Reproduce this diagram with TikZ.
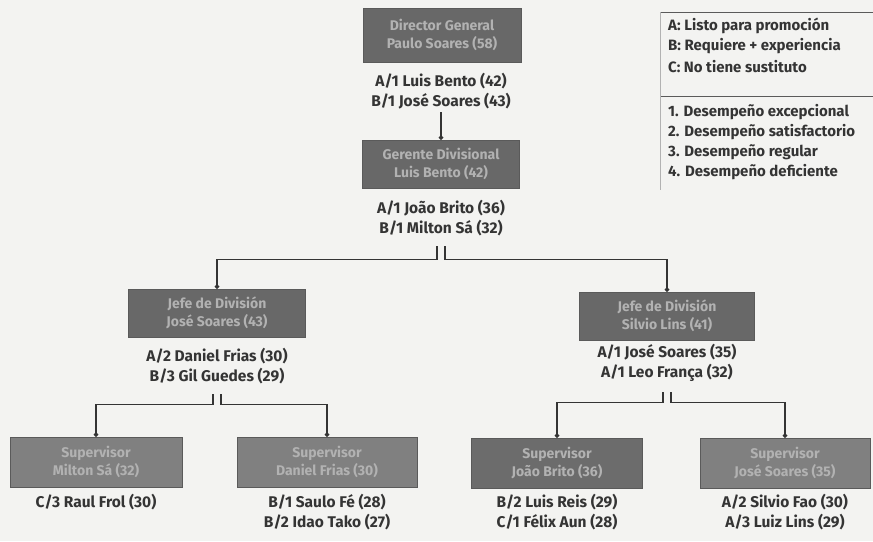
\documentclass[tikz,border=0pt]{standalone}
\usepackage{fontspec}
\setmainfont{Fira Sans}
\usetikzlibrary{arrows.meta,positioning}
\definecolor{ocPaper}{RGB}{243,243,241}
\definecolor{ocInk}{RGB}{52,52,52}
\definecolor{ocDark}{RGB}{104,104,104}
\definecolor{ocMid}{RGB}{128,128,128}
\definecolor{ocPale}{RGB}{178,178,178}
\definecolor{ocRule}{RGB}{90,90,90}
\tikzset{
  ocBox/.style={draw=ocRule, fill=#1, text=ocPale, align=center,
                minimum height=50pt, inner sep=2pt,
                font=\bfseries\fontsize{14}{18}\selectfont},
  ocName/.style={text=ocInk, align=center, inner sep=0pt,
                 font=\bfseries\fontsize{15.5}{20.5}\selectfont},
  ocKey/.style={text=ocInk, anchor=west, inner sep=0pt,
                font=\bfseries\fontsize{15}{15}\selectfont},
  ocLink/.style={draw=ocInk, line width=1.2pt},
  ocArrow/.style={ocLink, -{Circle[length=4.5pt]}},
  ocFrame/.style={draw=ocRule, line width=0.9pt}
}
\begin{document}
\begin{tikzpicture}[x=1pt,y=-1pt]
  \useasboundingbox[fill=ocPaper] (0,0) rectangle (873,541);

  % top levels
  \node[ocBox=ocDark, minimum width=158pt, minimum height=54pt] (dirBox) at (442,35) {Director General\\Paulo Soares (58)};
  \node[ocName] (dirSucc) at (441,91) {A/1 Luis Bento (42)\\B/1 José Soares (43)};
  \node[ocBox=ocDark, minimum width=157pt, minimum height=48pt] (gerBox) at (441,164) {Gerente Divisional\\Luis Bento (42)};
  \node[ocName] (gerSucc) at (441,218) {A/1 João Brito (36)\\B/1 Milton Sá (32)};

  % division heads
  \node[ocBox=ocDark, minimum width=177pt, minimum height=48pt] (jefeL) at (217,313) {Jefe de División\\José Soares (43)};
  \node[ocName] (jefeLSucc) at (217,366) {A/2 Daniel Frias (30)\\B/3 Gil Guedes (29)};
  \node[ocBox=ocDark, minimum width=175pt, minimum height=48pt] (jefeR) at (667,316) {Jefe de División\\Silvio Lins (41)};
  \node[ocName] (jefeRSucc) at (667,363) {A/1 José Soares (35)\\A/1 Leo França (32)};

  % supervisors
  \node[ocBox=ocMid, minimum width=172pt] (supA) at (96,462) {Supervisor\\Milton Sá (32)};
  \node[ocName] (supASucc) at (96,502) {C/3 Raul Frol (30)};
  \node[ocBox=ocMid, minimum width=180pt] (supB) at (327,462) {Supervisor\\Daniel Frias (30)};
  \node[ocName] (supBSucc) at (327,512) {B/1 Saulo Fé (28)\\B/2 Idao Tako (27)};
  \node[ocBox=ocDark!85!ocMid, minimum width=171pt] (supC) at (557,463) {Supervisor\\João Brito (36)};
  \node[ocName] (supCSucc) at (557,512) {B/2 Luis Reis (29)\\C/1 Félix Aun (28)};
  \node[ocBox=ocMid, minimum width=170pt] (supD) at (785,463) {Supervisor\\José Soares (35)};
  \node[ocName] (supDSucc) at (785,512) {A/2 Silvio Fao (30)\\A/3 Luiz Lins (29)};

  % links
  \draw[ocArrow] ([yshift=-3pt]dirSucc.south) -- (gerBox.north);
  \draw[ocArrow] ([xshift=-4pt,yshift=-10pt]gerSucc.south) -- ++(0,13) -| (jefeL.north);
  \draw[ocArrow] ([xshift=4pt,yshift=-10pt]gerSucc.south) -- ++(0,13) -| (jefeR.north);
  \draw[ocArrow] ([xshift=-4pt,yshift=-10pt]jefeLSucc.south) -- ++(0,10) -| (supA.north);
  \draw[ocArrow] ([xshift=4pt,yshift=-10pt]jefeLSucc.south) -- ++(0,10) -| (supB.north);
  \draw[ocArrow] ([xshift=-4pt,yshift=-10pt]jefeRSucc.south) -- ++(0,10) -| (supC.north);
  \draw[ocArrow] ([xshift=4pt,yshift=-10pt]jefeRSucc.south) -- ++(0,10) -| (supD.north);

  % legend
  \draw[ocFrame] (660,12) -- (873,12);
  \draw[ocFrame] (660,96) -- (873,96);
  \draw[ocPale, line width=0.6pt] (660,12) -- (660,190);
  \node[ocKey] (keyA) at (668,26) {A: Listo para promoción};
  \node[ocKey] (keyB) at (668,46) {B: Requiere + experiencia};
  \node[ocKey] (keyC) at (668,67) {C: No tiene sustituto};
  \node[ocKey] (keyOne) at (668,112) {1. Desempeño excepcional};
  \node[ocKey] (keyTwo) at (668,132) {2. Desempeño satisfactorio};
  \node[ocKey] (keyThree) at (668,152) {3. Desempeño regular};
  \node[ocKey] (keyFour) at (668,172) {4. Desempeño deficiente};
\end{tikzpicture}
\end{document}
